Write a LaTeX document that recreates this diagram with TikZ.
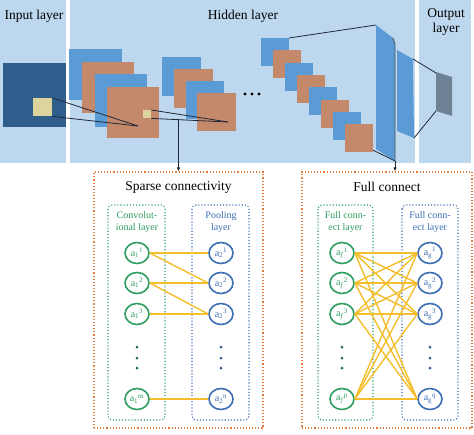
\documentclass[tikz,border=0pt]{standalone}
\usepackage{fontspec}
\setmainfont{Liberation Serif}
\usetikzlibrary{arrows.meta,calc,shapes.geometric}
\definecolor{panel}{HTML}{BDD7EE}
\definecolor{inblue}{HTML}{2F5E8C}
\definecolor{midblue}{HTML}{5B9BD5}
\definecolor{brown}{HTML}{C4886A}
\definecolor{ylw}{HTML}{DCD49C}
\definecolor{outgray}{HTML}{6E8296}
\definecolor{dk}{HTML}{1F2A38}
\definecolor{grn}{HTML}{2E9E60}
\definecolor{blu}{HTML}{3C6EB4}
\definecolor{org}{HTML}{E07B39}
\definecolor{gold}{HTML}{F4BE2C}
\tikzset{
  title/.style={font=\fontsize{13.5}{15}\selectfont, align=center, inner sep=0},
  lbl/.style={font=\fontsize{10}{11.5}\selectfont, align=center, inner sep=0},
  neuron/.style={ellipse, draw, line width=1.6pt, minimum width=24pt, minimum height=21pt, inner sep=0, fill=white, font=\fontsize{10}{11}\selectfont},
  gneuron/.style={neuron, draw=grn, text=grn},
  bneuron/.style={neuron, draw=blu, text=blu},
  outerbox/.style={draw=org, dotted, line width=1.1pt, inner sep=0},
  gbox/.style={draw=grn, dotted, line width=1.1pt, rounded corners=4pt},
  bbox/.style={draw=blu, dotted, line width=1.1pt, rounded corners=4pt},
  conn/.style={draw=gold, line width=1.4pt},
  thin/.style={draw=dk, line width=0.8pt},
  arr/.style={draw=dk, line width=0.8pt, -{Latex[length=4pt,width=3.5pt]}},
}
\begin{document}
\begin{tikzpicture}[x=1pt,y=-1pt]
\useasboundingbox (0,0) rectangle (474,434);
\fill[white] (0,0) rectangle (474,434);
% panels
\fill[panel] (0,0) rectangle (66,163);
\fill[panel] (70,0) rectangle (415,163);
\fill[panel] (419,0) rectangle (471,163);
\node[title] (tin) at (34,16) {Input layer};
\node[title] (thid) at (243,16) {Hidden layer};
\node[title] (tout) at (446,22) {Output\\layer};
% input
\fill[inblue] (3,63) rectangle (66,127);
\node[fill=ylw, inner sep=0, minimum width=19pt, minimum height=18pt, anchor=north west] (iy) at (33,98) {};
% first group
\fill[midblue] (69,49) rectangle (122,100);
\fill[brown] (82,62) rectangle (134,113);
\fill[midblue] (95,74) rectangle (147,127);
\fill[brown] (107,87) rectangle (159,138);
\node[fill=ylw, inner sep=0, minimum width=8pt, minimum height=8pt, anchor=north west] (hy) at (143,110) {};
% second group
\fill[midblue] (162,57) rectangle (201,96);
\fill[brown] (174,69) rectangle (213,108);
\fill[midblue] (186,81) rectangle (224,119);
\fill[brown] (197,93) rectangle (236,131);
\coordinate (c1) at (138,126);
\coordinate (c2) at (228,122);
\draw[thin] (iy.north east) -- (c1);
\draw[thin] (iy.south east) -- (c1);
\draw[thin] (hy.north east) -- (c2);
\draw[thin] (hy.south east) -- (c2);
% dots
\foreach \x in {245,252,259} \fill[black] (\x,94) circle (1.6pt);
% diagonal stack
\foreach \i in {0,...,7} {
  \pgfmathtruncatemacro{\odd}{mod(\i,2)}
  \ifnum\odd=0 \def\col{midblue}\else\def\col{brown}\fi
  \fill[\col] ({261+12*\i},{38+12.3*\i}) rectangle ++(28,28);
}
\coordinate (s0) at (289,38);
\coordinate (s7) at (373,150.1);
% FC trapezoids
\fill[midblue] (376,25) -- (393,38) -- (395,44) -- (395,161) -- (376,149) -- cycle;
\draw[thin, draw=dk!80] (393,38) -- (395,44) -- (395,161);
\coordinate (f1t) at (376,25);
\coordinate (f1b) at (395,161);
\fill[midblue] (397,50) -- (413,59) -- (414,138) -- (397,131) -- cycle;
\coordinate (f2t) at (413,59);
\coordinate (f2b) at (414,138);
\fill[outgray] (436,72) -- (452,77) -- (452,116) -- (436,111) -- cycle;
\coordinate (gt) at (436,73);
\coordinate (gb) at (436,111);
\draw[thin] (s0) -- (f1t);
\draw[thin] (s7) -- (f1b);
\draw[thin] (f2t) -- (gt);
\draw[thin] (f2b) -- (gb);
% bottom boxes
\node[outerbox, minimum width=169pt, minimum height=256pt] (sparse) at (178.5,300) {};
\node[outerbox, minimum width=170pt, minimum height=256pt] (full) at (387,300) {};
\coordinate (h1) at (178.5,119.4);
\draw[arr] (h1) -- (sparse.north);
\draw[arr] (f1b) -- (f1b |- full.north);
\node[title] (tsp) at (178.5,187) {Sparse connectivity};
\node[title] (tfc) at (387,187) {Full connect};
% sparse inner boxes
\draw[gbox] (108,205) rectangle (165,420);
\draw[bbox] (192,205) rectangle (249,420);
\node[lbl, text=grn] (lc) at (137,222) {Convolut-\\ional layer};
\node[lbl, text=blu] (lp) at (221,222) {Pooling\\layer};
% full inner boxes
\draw[gbox] (318,205) rectangle (373,420);
\draw[bbox] (402,205) rectangle (458,420);
\node[lbl, text=grn] (lf) at (345.5,222) {Full conn-\\ect layer};
\node[lbl, text=blu] (lg) at (430,222) {Full conn-\\ect layer};
% sparse neurons
\node[gneuron] (a11) at (137,253) {a\textsubscript{1}\textsuperscript{1}};
\node[gneuron] (a12) at (137,283) {a\textsubscript{1}\textsuperscript{2}};
\node[gneuron] (a13) at (137,314) {a\textsubscript{1}\textsuperscript{3}};
\node[gneuron] (a1m) at (137,399) {a\textsubscript{1}\textsuperscript{m}};
\node[bneuron] (a21) at (221,253) {a\textsubscript{2}\textsuperscript{1}};
\node[bneuron] (a22) at (221,283) {a\textsubscript{2}\textsuperscript{2}};
\node[bneuron] (a23) at (221,314) {a\textsubscript{2}\textsuperscript{3}};
\node[bneuron] (a2n) at (221,399) {a\textsubscript{2}\textsuperscript{n}};
\foreach \y in {347,358,368} {
  \fill[grn!70!black] (137,\y) circle (1.5pt);
  \fill[blu!80!black] (221,\y) circle (1.5pt);
}
\draw[conn] (a11.east) -- (a21.west);
\draw[conn] (a11.east) -- (a22.west);
\draw[conn] (a12.east) -- (a22.west);
\draw[conn] (a12.east) -- (a23.west);
\draw[conn] (a13.east) -- (a23.west);
\draw[conn] (a1m.east) -- (a2n.west);
% full neurons
\node[gneuron] (f1) at (342,253) {a\textsubscript{\textit{f}}\textsuperscript{1}};
\node[gneuron] (f2) at (342,283) {a\textsubscript{\textit{f}}\textsuperscript{2}};
\node[gneuron] (f3) at (342,314) {a\textsubscript{\textit{f}}\textsuperscript{3}};
\node[gneuron] (fp) at (342,399) {a\textsubscript{\textit{f}}\textsuperscript{p}};
\node[bneuron] (g1) at (430,253) {a\textsubscript{g}\textsuperscript{1}};
\node[bneuron] (g2) at (430,283) {a\textsubscript{g}\textsuperscript{2}};
\node[bneuron] (g3) at (430,314) {a\textsubscript{g}\textsuperscript{3}};
\node[bneuron] (gq) at (430,399) {a\textsubscript{g}\textsuperscript{q}};
\foreach \y in {347,358,368} {
  \fill[grn!70!black] (342,\y) circle (1.5pt);
  \fill[blu!80!black] (430,\y) circle (1.5pt);
}
\foreach \s in {f1,f2,f3,fp} \foreach \t in {g1,g2,g3,gq} \draw[conn] (\s.east) -- (\t.west);
\end{tikzpicture}
\end{document}
